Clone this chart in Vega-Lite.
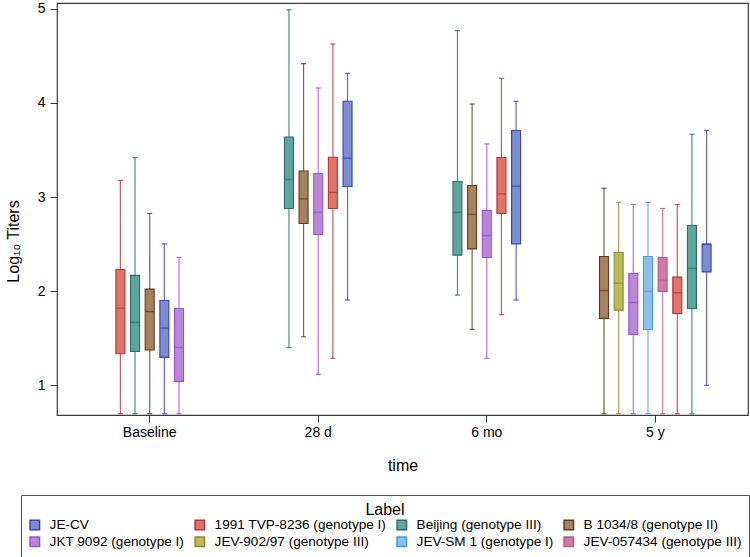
{
  "$schema": "https://vega.github.io/schema/vega-lite/v6.json",
  "width": 691,
  "height": 412,
  "padding": {"left": 5, "top": 1, "right": 2, "bottom": 2},
  "autosize": {"type": "pad"},
  "config": {
    "font": "Liberation Sans",
    "view": {"stroke": "#3a3a3a", "strokeWidth": 1.2},
    "axis": {"labelColor": "#000", "titleColor": "#000", "tickColor": "#333", "labelFont": "Liberation Sans", "titleFont": "Liberation Sans", "titleFontWeight": "normal"},
    "legend": {"labelFont": "Liberation Sans", "titleFont": "Liberation Sans", "titleFontWeight": "normal", "labelColor": "#000", "titleColor": "#000"}
  },
  "data": {
    "values": [
      {"time": "Baseline", "label": "1991 TVP-8236 (genotype I)", "min": 0.699, "q1": 1.336, "median": 1.82, "q3": 2.231, "max": 3.176},
      {"time": "Baseline", "label": "Beijing (genotype III)", "min": 0.699, "q1": 1.361, "median": 1.669, "q3": 2.168, "max": 3.42},
      {"time": "Baseline", "label": "B 1034/8  (genotype II)", "min": 0.699, "q1": 1.375, "median": 1.785, "q3": 2.022, "max": 2.826},
      {"time": "Baseline", "label": "JE-CV", "min": 0.699, "q1": 1.297, "median": 1.608, "q3": 1.902, "max": 2.503},
      {"time": "Baseline", "label": "JKT 9092 (genotype I)", "min": 0.699, "q1": 1.042, "median": 1.403, "q3": 1.817, "max": 2.359},
      {"time": "28 d", "label": "Beijing (genotype III)", "min": 1.40, "q1": 2.879, "median": 3.187, "q3": 3.639, "max": 4.99},
      {"time": "28 d", "label": "B 1034/8  (genotype II)", "min": 1.516, "q1": 2.72, "median": 2.981, "q3": 3.278, "max": 4.418},
      {"time": "28 d", "label": "JKT 9092 (genotype I)", "min": 1.117, "q1": 2.603, "median": 2.84, "q3": 3.25, "max": 4.159},
      {"time": "28 d", "label": "1991 TVP-8236 (genotype I)", "min": 1.287, "q1": 2.879, "median": 3.049, "q3": 3.424, "max": 4.626},
      {"time": "28 d", "label": "JE-CV", "min": 1.906, "q1": 3.113, "median": 3.413, "q3": 4.018, "max": 4.315},
      {"time": "6 mo", "label": "Beijing (genotype III)", "min": 1.959, "q1": 2.383, "median": 2.837, "q3": 3.166, "max": 4.769},
      {"time": "6 mo", "label": "B 1034/8  (genotype II)", "min": 1.594, "q1": 2.45, "median": 2.815, "q3": 3.123, "max": 3.989},
      {"time": "6 mo", "label": "JKT 9092 (genotype I)", "min": 1.287, "q1": 2.359, "median": 2.592, "q3": 2.861, "max": 3.565},
      {"time": "6 mo", "label": "1991 TVP-8236 (genotype I)", "min": 1.75, "q1": 2.826, "median": 3.034, "q3": 3.42, "max": 4.262},
      {"time": "6 mo", "label": "JE-CV", "min": 1.906, "q1": 2.503, "median": 3.116, "q3": 3.707, "max": 4.018},
      {"time": "5 y", "label": "B 1034/8  (genotype II)", "min": 0.699, "q1": 1.711, "median": 2.008, "q3": 2.369, "max": 3.094},
      {"time": "5 y", "label": "JEV-902/97 (genotype III)", "min": 0.699, "q1": 1.799, "median": 2.086, "q3": 2.412, "max": 2.943},
      {"time": "5 y", "label": "JKT 9092 (genotype I)", "min": 0.699, "q1": 1.541, "median": 1.881, "q3": 2.189, "max": 2.921},
      {"time": "5 y", "label": "JEV-SM 1 (genotype I)", "min": 0.699, "q1": 1.594, "median": 1.998, "q3": 2.369, "max": 2.943},
      {"time": "5 y", "label": "JEV-057434 (genotype III)", "min": 0.699, "q1": 1.998, "median": 2.115, "q3": 2.359, "max": 2.879},
      {"time": "5 y", "label": "1991 TVP-8236 (genotype I)", "min": 0.699, "q1": 1.764, "median": 1.983, "q3": 2.15, "max": 2.921},
      {"time": "5 y", "label": "Beijing (genotype III)", "min": 0.699, "q1": 1.817, "median": 2.242, "q3": 2.699, "max": 3.668},
      {"time": "5 y", "label": "JE-CV", "min": 1.0, "q1": 2.206, "median": 2.5, "q3": 2.5, "max": 3.707}
    ]
  },
  "transform": [
    {"joinaggregate": [{"op": "count", "as": "n"}], "groupby": ["time"]},
    {"window": [{"op": "row_number", "as": "idx"}], "groupby": ["time"]},
    {"calculate": "2*datum.idx - datum.n - 1", "as": "slot"}
  ],
  "encoding": {
    "x": {
      "field": "time", "type": "nominal", "title": "time",
      "sort": ["Baseline", "28 d", "6 mo", "5 y"],
      "scale": {"type": "band", "paddingInner": 0, "paddingOuter": 0.05},
      "axis": {"labelAngle": 0, "domain": false, "grid": false, "tickSize": 7, "labelFontSize": 14, "labelPadding": 3, "titleFontSize": 16, "titlePadding": 18}
    },
    "xOffset": {
      "field": "slot", "type": "ordinal",
      "scale": {"domain": [-11, -10, -9, -8, -7, -6, -5, -4, -3, -2, -1, 0, 1, 2, 3, 4, 5, 6, 7, 8, 9, 10, 11], "paddingInner": 0, "paddingOuter": 0}
    },
    "stroke": {
      "field": "label", "type": "nominal", "title": "Label",
      "scale": {
        "domain": ["JE-CV", "1991 TVP-8236 (genotype I)", "Beijing (genotype III)", "B 1034/8  (genotype II)", "JKT 9092 (genotype I)", "JEV-902/97 (genotype III)", "JEV-SM 1 (genotype I)", "JEV-057434 (genotype III)"],
        "range": ["#3B3FC4", "#B8323C", "#2B6F67", "#5B3B1C", "#9B4FD8", "#8F8D2B", "#3E9CEB", "#B05C86"]
      },
      "legend": {"orient": "none", "legendX": -36, "legendY": 492, "columns": 4, "direction": "horizontal", "titleAnchor": "middle", "strokeColor": "#555", "padding": 7, "titlePadding": 0, "symbolType": "square", "symbolSize": 90, "labelOffset": 8, "labelFontSize": 13.6, "titleFontSize": 16, "columnPadding": 7, "rowPadding": 1, "labelLimit": 400}
    }
  },
  "layer": [
    {
      "mark": {"type": "rule", "strokeWidth": 1.2, "strokeOpacity": 0.8},
      "encoding": {
        "y": {
          "field": "min", "type": "quantitative", "title": "Log₁₀ Titers",
          "scale": {"domain": [0.685, 5.062], "nice": false, "zero": false},
          "axis": {"values": [1, 2, 3, 4, 5], "format": "d", "grid": false, "domain": false, "tickSize": 7, "labelFontSize": 14, "labelPadding": 5, "titleFontSize": 16, "titlePadding": 16, "titleY": 238}
        },
        "y2": {"field": "max"}
      }
    },
    {
      "mark": {"type": "bar", "width": 9, "strokeWidth": 1.1},
      "encoding": {
        "y": {"field": "q1", "type": "quantitative"},
        "y2": {"field": "q3"},
        "fill": {
          "field": "label", "type": "nominal", "title": "Label",
          "scale": {
            "domain": ["JE-CV", "1991 TVP-8236 (genotype I)", "Beijing (genotype III)", "B 1034/8  (genotype II)", "JKT 9092 (genotype I)", "JEV-902/97 (genotype III)", "JEV-SM 1 (genotype I)", "JEV-057434 (genotype III)"],
            "range": ["#7B8DCB", "#E07565", "#5EA59B", "#A8825A", "#B888D6", "#BDBB55", "#90BEEA", "#D07A9F"]
          },
          "legend": {"orient": "none", "legendX": -36, "legendY": 492, "columns": 4, "direction": "horizontal", "titleAnchor": "middle", "strokeColor": "#555", "padding": 7, "titlePadding": 0, "symbolType": "square", "symbolSize": 90, "labelOffset": 8, "labelFontSize": 13.6, "titleFontSize": 16, "columnPadding": 7, "rowPadding": 1, "labelLimit": 400}
        }
      }
    },
    {
      "mark": {"type": "tick", "size": 9, "thickness": 1.4, "strokeWidth": 0},
      "encoding": {
        "y": {"field": "median", "type": "quantitative"},
        "color": {
          "field": "label", "type": "nominal", "legend": null,
          "scale": {
            "domain": ["JE-CV", "1991 TVP-8236 (genotype I)", "Beijing (genotype III)", "B 1034/8  (genotype II)", "JKT 9092 (genotype I)", "JEV-902/97 (genotype III)", "JEV-SM 1 (genotype I)", "JEV-057434 (genotype III)"],
            "range": ["#3B3FC4", "#B8323C", "#2B6F67", "#5B3B1C", "#9B4FD8", "#8F8D2B", "#3E9CEB", "#B05C86"]
          }
        }
      }
    },
    {
      "mark": {"type": "tick", "size": 5, "thickness": 1.2, "strokeWidth": 0, "opacity": 0.85},
      "encoding": {
        "y": {"field": "min", "type": "quantitative"},
        "color": {"field": "label", "type": "nominal", "legend": null}
      }
    },
    {
      "mark": {"type": "tick", "size": 5, "thickness": 1.2, "strokeWidth": 0, "opacity": 0.85},
      "encoding": {
        "y": {"field": "max", "type": "quantitative"},
        "color": {"field": "label", "type": "nominal", "legend": null}
      }
    }
  ]
}
